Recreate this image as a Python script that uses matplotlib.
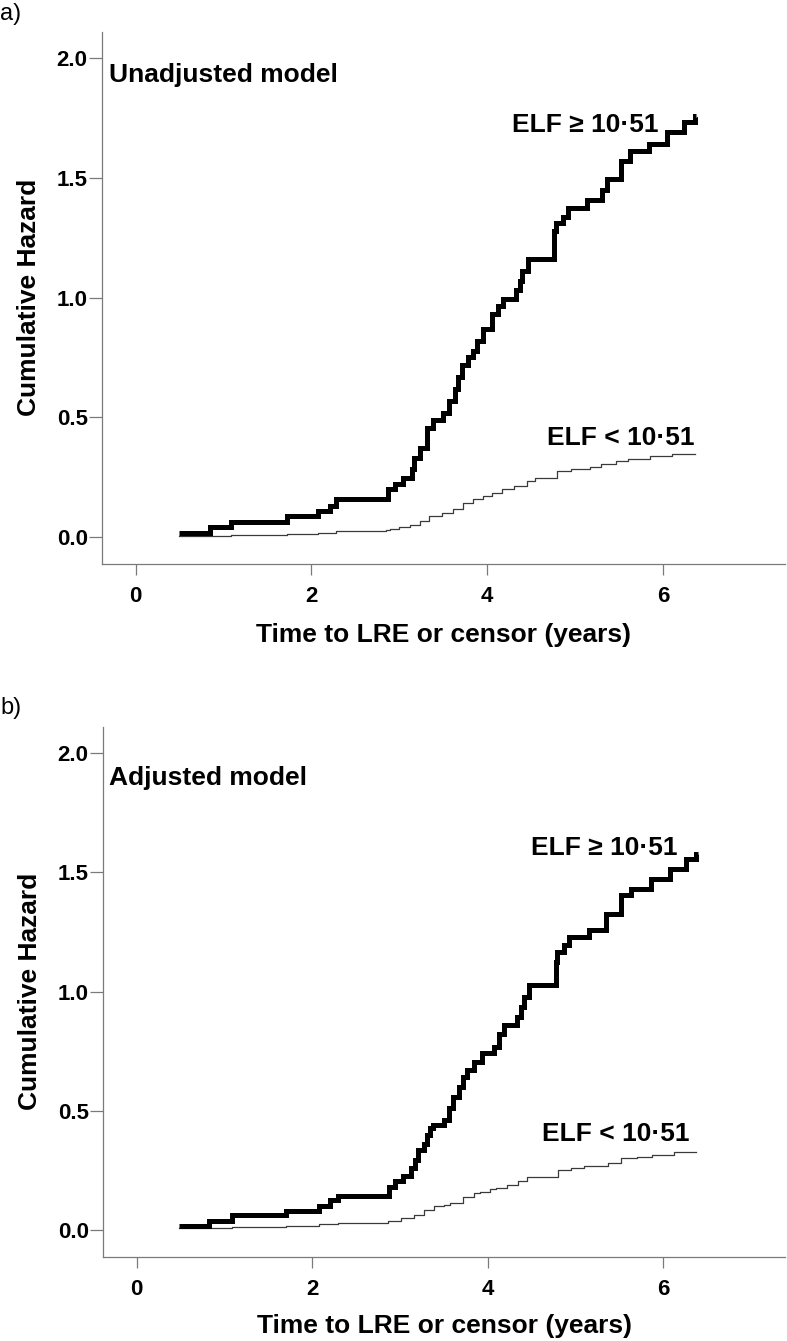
import numpy as np
import matplotlib
matplotlib.use("Agg")
from matplotlib import pyplot as plt

plt.rcParams['font.family'] = ['Liberation Sans', 'DejaVu Sans']

# Panel a) unadjusted model: step times (years) and cumulative hazard
a_alto_t = [0.49, 0.845, 1.09, 1.72, 2.07, 2.21, 2.28, 2.87, 2.95, 3.04, 3.14, 3.17,
            3.23, 3.31, 3.38, 3.50, 3.57, 3.63, 3.67, 3.71, 3.78, 3.84, 3.88, 3.95,
            4.06, 4.12, 4.18, 4.33, 4.37, 4.40, 4.46, 4.76, 4.78, 4.86, 4.92, 5.14,
            5.31, 5.36, 5.52, 5.62, 5.84, 6.05, 6.24, 6.36]
a_alto_h = [0.018, 0.043, 0.064, 0.088, 0.109, 0.13, 0.16, 0.20, 0.223, 0.248, 0.284, 0.33,
            0.374, 0.457, 0.49, 0.52, 0.57, 0.62, 0.667, 0.72, 0.75, 0.778, 0.82, 0.87,
            0.933, 0.967, 0.996, 1.03, 1.07, 1.11, 1.163, 1.28, 1.31, 1.336, 1.372, 1.406,
            1.45, 1.495, 1.57, 1.613, 1.64, 1.69, 1.732, 1.76]
a_alto_fin = 6.375

a_bajo_t = [0.49, 0.85, 1.09, 1.72, 2.08, 2.28, 2.85, 2.89, 3.00, 3.12, 3.23, 3.34,
            3.49, 3.61, 3.72, 3.84, 3.95, 4.06, 4.17, 4.30, 4.45, 4.55, 4.79, 4.95,
            5.17, 5.30, 5.47, 5.60, 5.85, 6.10]
a_bajo_h = [0.004, 0.006, 0.008, 0.014, 0.018, 0.025, 0.029, 0.035, 0.042, 0.05, 0.067, 0.088,
            0.10, 0.117, 0.144, 0.16, 0.171, 0.185, 0.20, 0.215, 0.236, 0.246, 0.278, 0.285,
            0.295, 0.305, 0.316, 0.325, 0.337, 0.347]
a_bajo_fin = 6.36

# Panel b) adjusted model
b_alto_t = [0.486, 0.83, 1.09, 1.70, 2.08, 2.20, 2.29, 2.88, 2.95, 3.04, 3.13, 3.17,
            3.21, 3.27, 3.305, 3.34, 3.38, 3.50, 3.555, 3.61, 3.67, 3.725, 3.764, 3.84,
            3.935, 4.07, 4.126, 4.183, 4.337, 4.375, 4.413, 4.47, 4.776, 4.795, 4.871, 4.929,
            5.158, 5.349, 5.521, 5.636, 5.865, 6.075, 6.266, 6.38]
b_alto_h = [0.017, 0.039, 0.061, 0.081, 0.102, 0.124, 0.143, 0.181, 0.207, 0.228, 0.258, 0.293,
            0.335, 0.36, 0.398, 0.426, 0.44, 0.461, 0.51, 0.559, 0.601, 0.642, 0.670, 0.706,
            0.741, 0.768, 0.824, 0.859, 0.894, 0.936, 0.978, 1.027, 1.124, 1.166, 1.194, 1.229,
            1.257, 1.327, 1.404, 1.432, 1.474, 1.516, 1.557, 1.578]
b_alto_fin = 6.40

b_bajo_t = [0.486, 1.09, 1.70, 2.08, 2.29, 2.87, 3.01, 3.16, 3.28, 3.39, 3.50, 3.57,
            3.72, 3.84, 3.91, 4.03, 4.10, 4.22, 4.35, 4.45, 4.80, 4.95, 5.10, 5.37,
            5.52, 5.70, 5.87, 6.13]
b_bajo_h = [0.010, 0.014, 0.018, 0.025, 0.031, 0.039, 0.049, 0.063, 0.084, 0.10, 0.105, 0.114,
            0.14, 0.156, 0.161, 0.171, 0.175, 0.189, 0.205, 0.221, 0.252, 0.26, 0.268, 0.282,
            0.30, 0.307, 0.314, 0.328]
b_bajo_fin = 6.38

x_ticks = [0, 2, 4, 6]
y_ticks = [0.0, 0.5, 1.0, 1.5, 2.0]
etiqueta_alto = 'ELF \u2265 10\u00b751'
etiqueta_bajo = 'ELF < 10\u00b751'

color_eje = '#7a7a7a'


def escalera(t, h, fin):
    # extender la curva hasta el ultimo tiempo de seguimiento
    return np.append(t, fin), np.append(h, h[-1])


def panel(ax, alto, bajo, titulo, pos_titulo, pos_alto, pos_bajo, xlab_y):
    x, y = escalera(*bajo)
    ax.step(x, y, where='post', color='#3a3a3a', lw=0.9)
    x, y = escalera(*alto)
    ax.step(x, y, where='post', color='black', lw=3.6, solid_joinstyle='miter',
            solid_capstyle='butt')

    ax.set_xlim(-0.38, 7.39)
    ax.set_ylim(-0.112, 2.11)
    ax.set_xticks(x_ticks)
    ax.set_yticks(y_ticks)
    ax.set_xticklabels([str(v) for v in x_ticks])
    ax.set_yticklabels(['%.1f' % v for v in y_ticks])
    for s in ['top', 'right']:
        ax.spines[s].set_visible(False)
    for s in ['left', 'bottom']:
        ax.spines[s].set_color(color_eje)
        ax.spines[s].set_linewidth(0.9)
    ax.tick_params(axis='y', length=9.5, width=0.9, color=color_eje, pad=1, labelsize=16)
    ax.tick_params(axis='x', length=8, width=0.9, color=color_eje, pad=8, labelsize=16)
    for lab in ax.get_xticklabels() + ax.get_yticklabels():
        lab.set_fontweight('bold')

    ax.set_xlabel('Time to LRE or censor (years)', fontsize=19, fontweight='bold',
                  va='baseline')
    ax.set_ylabel('Cumulative Hazard', fontsize=19, fontweight='bold')
    ax.xaxis.set_label_coords(0.5, xlab_y)
    ax.yaxis.set_label_coords(-0.090, 0.5)

    ax.text(pos_titulo[0], pos_titulo[1], titulo, fontsize=19, fontweight='bold',
            ha='left', va='baseline')
    ax.text(pos_alto[0], pos_alto[1], etiqueta_alto, fontsize=19, fontweight='bold',
            ha='right', va='baseline')
    ax.text(pos_bajo[0], pos_bajo[1], etiqueta_bajo, fontsize=19, fontweight='bold',
            ha='right', va='baseline')


fig = plt.figure(figsize=(7.87, 13.41), dpi=100)
ax1 = fig.add_axes([0.130, 0.5794, 0.8675, 0.3970])
ax2 = fig.add_axes([0.1313, 0.0629, 0.8662, 0.3950])

panel(ax1, (a_alto_t, a_alto_h, a_alto_fin), (a_bajo_t, a_bajo_h, a_bajo_fin),
      'Unadjusted model', (-0.30, 1.90), (5.945, 1.69), (6.363, 0.386), -0.146)
panel(ax2, (b_alto_t, b_alto_h, b_alto_fin), (b_bajo_t, b_bajo_h, b_bajo_fin),
      'Adjusted model', (-0.31, 1.865), (6.16, 1.572), (6.30, 0.372), -0.1446)

fig.text(0.0, 1 - 14 / 1341, 'a)', fontsize=17, ha='left', va='center')
fig.text(0.001, 1 - 708 / 1341, 'b)', fontsize=17, ha='left', va='center')

fig.savefig('out.png', dpi=100)
